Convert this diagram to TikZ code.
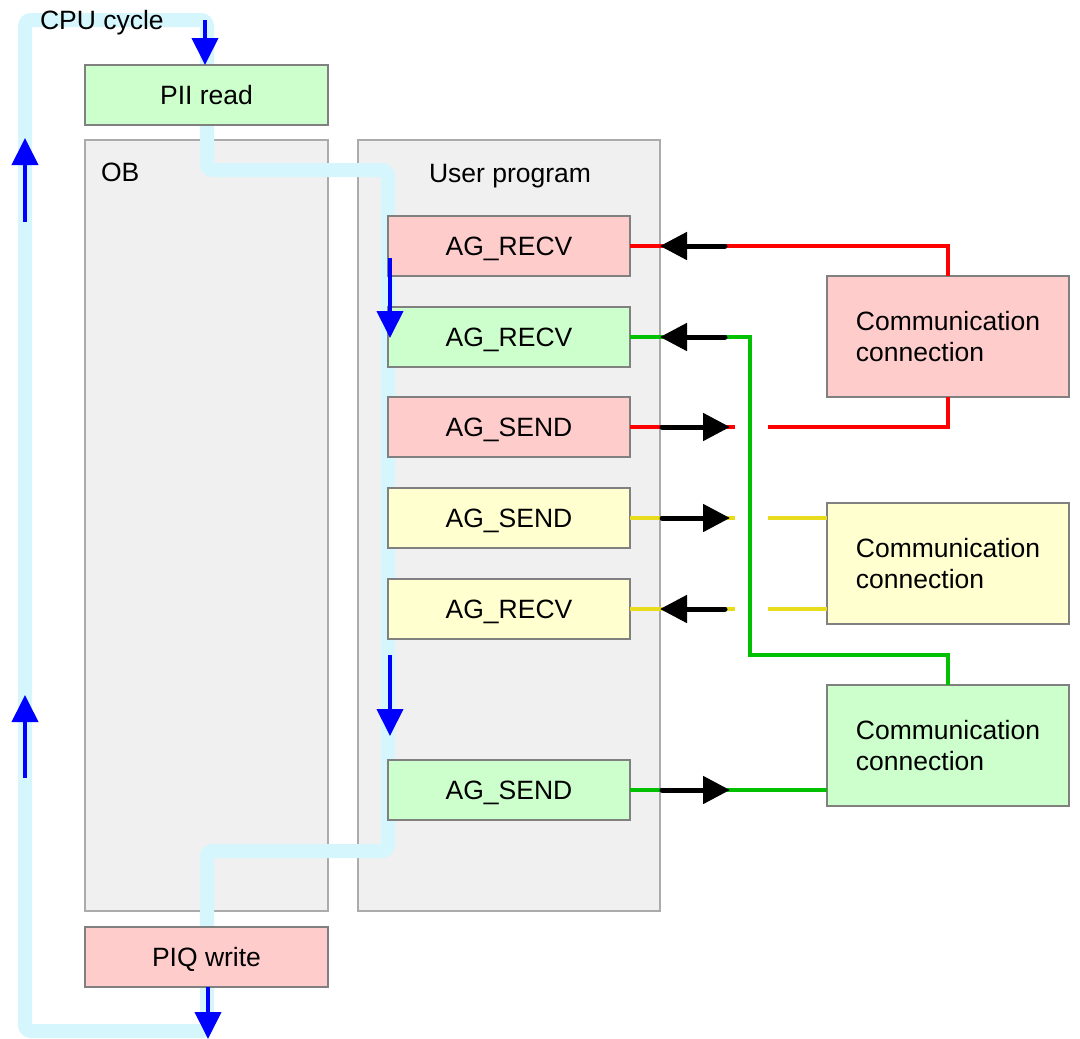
\documentclass[tikz,border=0pt]{standalone}
\usepackage{fontspec}
\setmainfont{Liberation Sans}
\usetikzlibrary{arrows.meta}
\definecolor{gfill}{HTML}{CCFFCC}
\definecolor{rfill}{HTML}{FFCCCC}
\definecolor{yfill}{HTML}{FFFFD0}
\definecolor{grayfill}{HTML}{F0F0F0}
\definecolor{cyanflow}{HTML}{D4F6FC}
\definecolor{rline}{HTML}{FF0000}
\definecolor{gline}{HTML}{00C000}
\definecolor{yline}{HTML}{E8DC1C}
\tikzset{
  every node/.style={font=\fontsize{26.5}{31}\selectfont, inner sep=0pt, outer sep=0pt},
  graybox/.style={draw=black!33, line width=1.2pt, fill=grayfill, anchor=north west},
  agbox/.style={draw=black!50, line width=1.2pt, anchor=north west, minimum width=242pt, minimum height=60pt, text height=19pt, text depth=0pt},
  commbox/.style={draw=black!50, line width=1.2pt, anchor=north west, minimum width=242pt, minimum height=121pt, align=left},
  flow/.style={cyanflow, line width=14pt, rounded corners=6pt},
  cycarrow/.style={draw=blue, line width=4pt, -{Triangle[width=26pt,length=27pt]}},
  msgarrow/.style={draw=black, line width=5pt, line cap=round, -{Triangle[width=27pt,length=27pt]}},
  rwire/.style={draw=rline, line width=3.3pt},
  gwire/.style={draw=gline, line width=3.3pt},
  ywire/.style={draw=yline, line width=3.8pt},
}
\begin{document}
\begin{tikzpicture}[x=1pt,y=-1pt]
\useasboundingbox (0,0) rectangle (1080,1039);
% gray containers
\node[graybox, minimum width=243pt, minimum height=771pt] (ob) at (85,140) {};
\node[graybox, minimum width=302pt, minimum height=771pt] (up) at (358,140) {};
\node[anchor=west] (obt) at (101,172) {OB};
\node[anchor=base] (upt) at (510,182) {User program};
% cyan cycle flow
\draw[flow] (207,988) -- (207,1031) -- (25,1031) -- (25,20) -- (207,20) -- (207,65);
\draw[flow] (207,125) -- (207,170) -- (388,170) -- (388,851) -- (207,851) -- (207,927);
% PII / PIQ
\node[agbox, fill=gfill, minimum width=243pt] (pii) at (85,65) {PII read};
\node[agbox, fill=rfill, minimum width=243pt] (piq) at (85,927) {PIQ write};
\node[anchor=base west] (cpu) at (40,29) {CPU cycle};
% AG blocks
\node[agbox, fill=rfill] (r1) at (388,216) {AG\_RECV};
\node[agbox, fill=gfill] (r2) at (388,307) {AG\_RECV};
\node[agbox, fill=rfill] (s1) at (388,397) {AG\_SEND};
\node[agbox, fill=yfill] (s2) at (388,488) {AG\_SEND};
\node[agbox, fill=yfill] (r3) at (388,579) {AG\_RECV};
\node[agbox, fill=gfill] (s3) at (388,760) {AG\_SEND};
% communication connections
\node[commbox, fill=rfill] (cr) at (827,276) {Communication\\connection};
\node[commbox, fill=yfill] (cy) at (827,503) {Communication\\connection};
\node[commbox, fill=gfill] (cg) at (827,685) {Communication\\connection};
% coordinates for gaps
\coordinate (g1a) at (735,427); \coordinate (g1b) at (768,427);
\coordinate (g2a) at (735,518); \coordinate (g2b) at (768,518);
\coordinate (g3a) at (735,609); \coordinate (g3b) at (768,609);
% wires
\draw[rwire] (r1.east) -- (948,246) -- (cr.north);
\draw[rwire] (s1.east) -- (g1a);
\draw[rwire] (g1b) -- (948,427) -- (cr.south);
\draw[gwire] (r2.east) -- (750,337) -- (750,655) -- (948,655) -- (cg.north);
\draw[gwire] (s3.east) -- (cg.west |- s3.east);
\draw[ywire] (s2.east) -- (g2a);
\draw[ywire] (g2b) -- (cy.west |- g2b);
\draw[ywire] (r3.east) -- (g3a);
\draw[ywire] (g3b) -- (cy.west |- g3b);
% message arrows
\coordinate (m1a) at (725,246); \coordinate (m1b) at (660,246);
\coordinate (m2a) at (725,337); \coordinate (m2b) at (660,337);
\coordinate (m3a) at (662,427); \coordinate (m3b) at (730,427);
\coordinate (m4a) at (662,518); \coordinate (m4b) at (730,518);
\coordinate (m5a) at (725,609); \coordinate (m5b) at (660,609);
\coordinate (m6a) at (662,790); \coordinate (m6b) at (730,790);
\draw[msgarrow] (m1a) -- (m1b);
\draw[msgarrow] (m2a) -- (m2b);
\draw[msgarrow] (m3a) -- (m3b);
\draw[msgarrow] (m4a) -- (m4b);
\draw[msgarrow] (m5a) -- (m5b);
\draw[msgarrow] (m6a) -- (m6b);
% blue cycle arrows
\coordinate (b1a) at (205,20);
\coordinate (b2a) at (25,222); \coordinate (b2b) at (25,138);
\coordinate (b3a) at (25,778); \coordinate (b3b) at (25,695);
\coordinate (b4a) at (390,258); \coordinate (b4b) at (390,338);
\coordinate (b5a) at (390,655); \coordinate (b5b) at (390,736);
\coordinate (b6b) at (208,1039);
\draw[cycarrow] (b1a) -- (b1a |- pii.north);
\draw[cycarrow] (b2a) -- (b2b);
\draw[cycarrow] (b3a) -- (b3b);
\draw[cycarrow] (b4a) -- (b4b);
\draw[cycarrow] (b5a) -- (b5b);
\draw[cycarrow] (b6b |- piq.south) -- (b6b);
\end{tikzpicture}
\end{document}
